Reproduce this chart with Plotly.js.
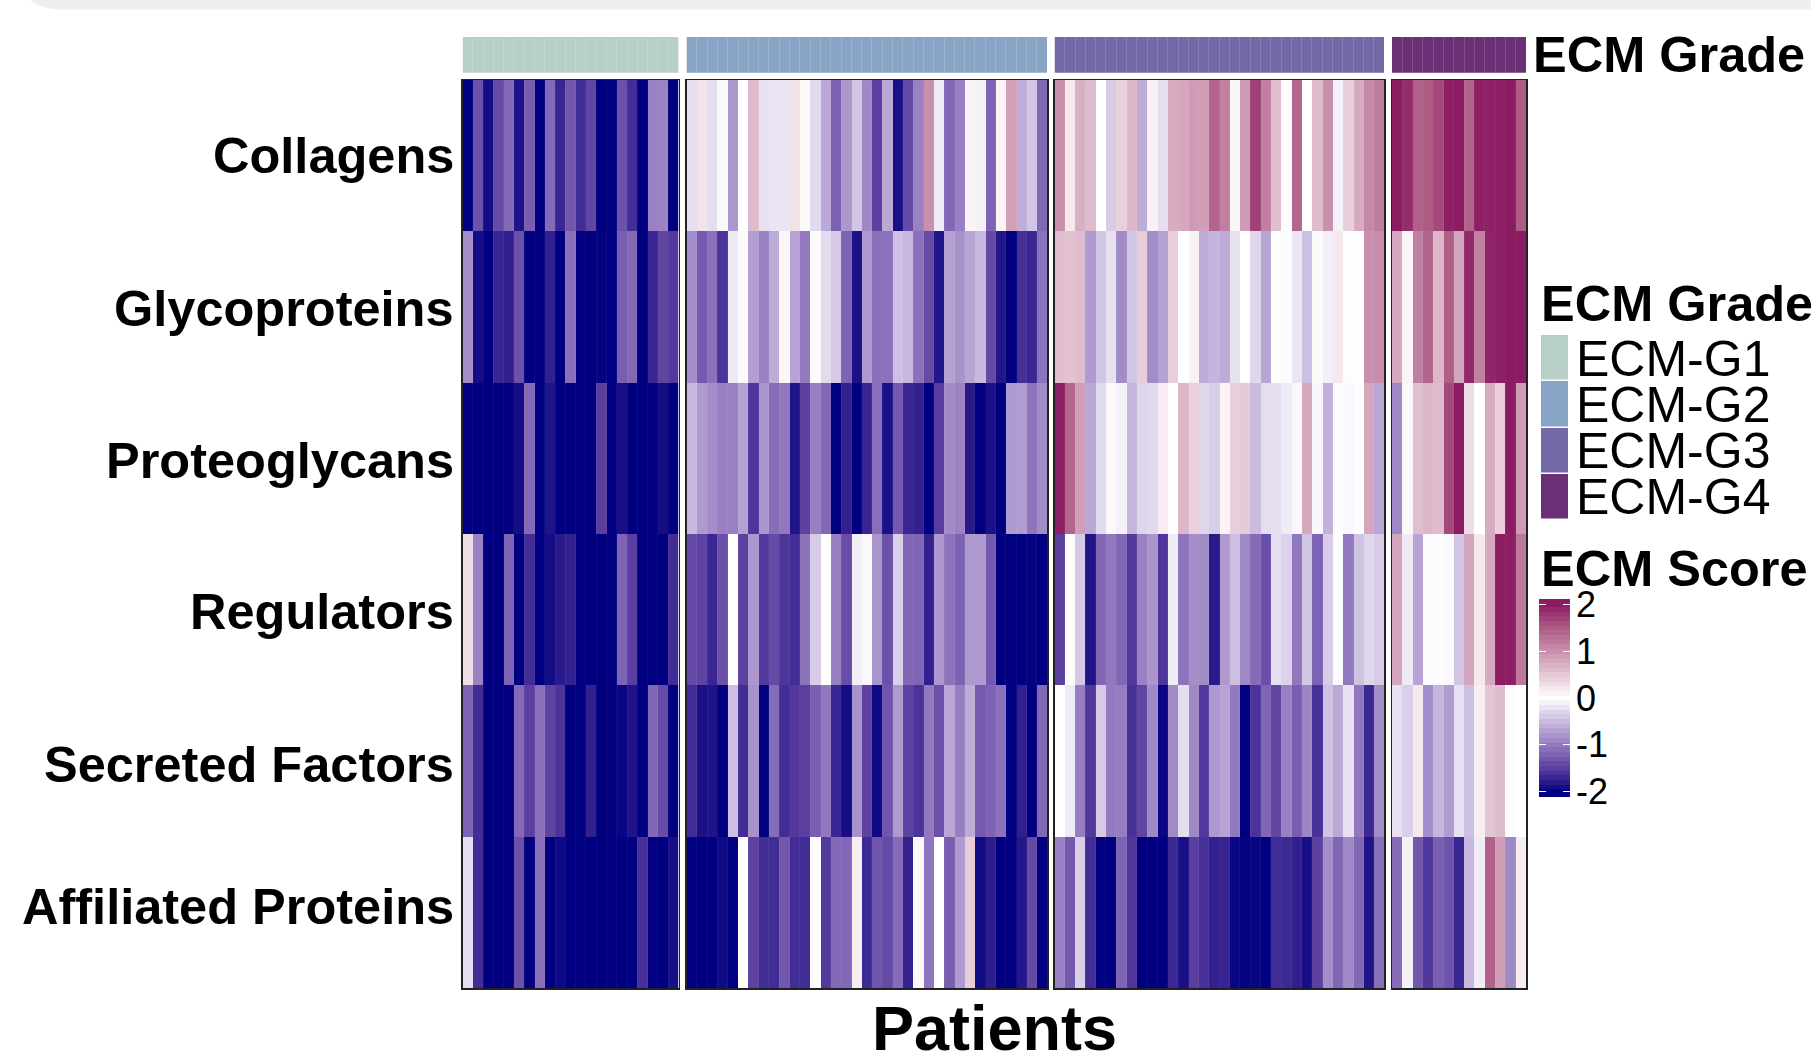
<!DOCTYPE html>
<html>
<head>
<meta charset="utf-8">
<script src="https://cdn.plot.ly/plotly-3.0.1.min.js"></script>
<style>html,body{margin:0;padding:0;background:#fff}#chart{width:1811px;height:1064px}</style>
</head>
<body>
<div id="chart"></div>
<script>
const rowLabels = ["Collagens","Glycoproteins","Proteoglycans","Regulators","Secreted Factors","Affiliated Proteins"];
const rowLabelShift = [0,-1,-2,-2,-3,6];
const gradeNames = ["ECM-G1","ECM-G2","ECM-G3","ECM-G4"];
const gradeColors = ["#B7CFC7","#88A4C4","#7269A6","#6B2F76"];
const scoreTicks = [-2,-1,0,1,2];
const scoreTickText = ["-2","-1","0","1","2"];
const scoreStops = [-2.12,-2,-1.75,-1.5,-1,-0.5,0,0.5,1,1.5,2,2.12];
const scoreColors = ["#000080","#000080","#32208E","#5B3FA0","#947BC0","#CABBE0","#FFFFFF","#E5C7D5","#C990AD","#AE5C85","#8B1C62","#8B1C62"];
const rampValues = [-2.1,-2,-1.9,-1.8,-1.7,-1.6,-1.5,-1.4,-1.3,-1.2,-1.1,-1,-0.9,-0.8,-0.7,-0.6,-0.5,-0.4,-0.3,-0.2,-0.1,0,0.1,0.2,0.3,0.4,0.5,0.6,0.7,0.8,0.9,1,1.1,1.2,1.3,1.4,1.5,1.6,1.7,1.8,1.9,2,2.1];

const g1Scores = [
[-2,-1.35,-1.9,-1.4,-1.15,-1.85,-1.25,-2,-1.15,-1.7,-1.3,-1.65,-1.45,-2,-2,-1.35,-1.65,-2,-0.95,-0.93,-2],
[-0.85,-1.9,-2,-1.7,-1.75,-1.35,-2,-2,-1.75,-2,-1.1,-2,-2,-1.98,-2,-1.25,-1.15,-2,-1.7,-1.45,-1.55],
[-2,-2,-2,-2,-2,-1.9,-1.15,-2,-1.85,-2,-2,-2,-2,-1.5,-2,-1.88,-2,-2,-2,-1.9,-2],
[0.3,-0.95,-2,-2,-1.2,-2,-1.65,-2,-1.9,-1.8,-1.75,-2,-2,-2,-2,-1.2,-1.5,-2,-2,-2,-1.65],
[-1.2,-1.65,-2,-2,-2,-1.15,-1.5,-1.1,-1.47,-1.6,-2,-2,-1.75,-2,-2,-1.95,-1.85,-2,-1.17,-1.4,-2],
[-0.25,-1.65,-2,-2,-2,-1.35,-2,-1.1,-2,-1.93,-2,-2,-2,-2,-2,-2,-2,-1.62,-2,-2,-1.88]
];
const g2Scores = [
[-0.25,0.25,-0.25,-0.05,-0.78,0,0.6,-0.22,-0.2,-0.2,0.27,0.05,-0.28,-0.65,-1.22,-0.78,-0.42,-0.9,-1.48,-0.65,-1.87,-1.42,-0.95,1,-0.15,-1.17,-0.95,0.1,-0.1,-1.2,0.1,0.85,-0.6,-0.42,-1.17],
[-0.85,-1.28,-1.08,-1.6,-0.16,0.05,-0.73,-0.95,-0.62,0.08,-0.68,-1,-0.04,-0.27,-0.4,-1.2,-1.87,-0.77,-1.08,-1.08,-0.46,-0.52,-1.08,-1.4,-1.83,-0.7,-0.82,-0.68,-0.52,-1.42,-1.83,-2,-1.63,-1.7,-1.07],
[-0.52,-0.76,-0.85,-0.95,-0.95,-0.7,-1.58,-0.8,-1.12,-1.03,-1.85,-1.48,-0.97,-1.17,-2,-1.75,-2,-1.72,-1.1,-1.87,-1.28,-1.7,-1.75,-2,-1.52,-0.87,-0.93,-1.8,-2,-1.87,-2,-0.75,-0.75,-1.07,-0.87],
[-1.4,-1.47,-1.7,-1.35,0,-1.48,-0.78,-1.55,-1.4,-1.58,-1.65,-1.07,-0.38,0,-0.97,-1.38,-0.12,-0.05,-0.8,-1.35,-0.35,-1.17,-1.18,-1.75,-0.78,-1.07,-1.2,-0.76,-0.76,-1.28,-2,-2,-2,-1.97,-2],
[-1.65,-1.87,-1.84,-2,-0.47,-1.65,-0.83,-2,-1.12,-1.65,-1.55,-1.5,-1.23,-1.02,-1.7,-1.9,-0.82,-1.48,-1.93,-1.32,-0.76,-1.47,-1.6,-1.02,-1.36,-0.67,-0.98,-0.62,-1.28,-1.2,-1.08,-2,-1.76,-2,-1.17],
[-2,-2,-2,-1.92,-2,0,-1.48,-1.65,-1.65,-1.3,-1.65,-1.65,-0.02,-1.55,-1.15,-1.17,0.15,-1.68,-1.32,-1.42,-1.13,-1.74,0.05,-1.05,0,-1.25,-0.75,0.45,-1.92,-1.78,-2,-2,-1.83,-1.42,-2]
];
const g3Scores = [
[1,0.2,0.72,0.6,0,-0.38,0.42,0.65,-0.62,0.13,-0.25,0.75,0.78,0.9,0.87,1.4,1.15,0.07,0.9,1.72,1.15,0.57,0.02,1.4,0.01,0.6,1,-0.1,0.43,0.76,1.08,1.17],
[0.58,0.55,0.6,-0.76,-0.42,-0.22,-0.87,-0.42,0.45,-0.87,-0.7,0.43,0,0.12,-0.62,-0.55,-0.63,-0.23,0,-0.3,-0.68,0.01,-0.03,-0.2,-0.47,0.05,-0.12,0.2,-0.02,0,1,1.03],
[1.97,1.4,0.87,-0.66,-0.28,0.06,-0.1,-0.55,-0.3,-0.28,0.17,0.01,0.65,0.42,-0.3,-0.37,0.1,0.43,0.47,-0.5,-0.25,-0.25,-0.14,-0.05,0.78,-0.06,-0.58,-0.02,-0.05,-0.03,0.8,-0.66],
[-1.48,0.01,-0.4,-1.85,-1.17,-1.02,-1.17,-1.55,-0.95,-0.8,-1.58,-0.14,-1.07,-0.85,-0.87,-1.8,-0.76,-0.47,-0.9,-1.13,-1.37,-0.25,-0.33,-1.03,-0.42,-1.2,-0.37,-0.03,-1.02,-0.45,-0.3,-0.38],
[0,-0.15,-0.98,-1.55,-0.4,-1,-0.98,-1.62,-1.45,-0.9,-1.95,-0.88,-0.25,-0.9,-1.55,-0.78,-0.68,-1.02,-2,-1.6,-1.18,-1.45,-0.95,-1.25,-0.92,-1.62,-0.45,-0.65,-0.22,-1.03,-1.68,-0.85],
[-0.95,-1.28,-0.35,-1.65,-2,-2,-1.2,-1.57,-2,-2,-2,-1.68,-1.88,-1.5,-1.62,-1.75,-1.72,-1.95,-1.98,-1.96,-2,-1.66,-1.68,-1.76,-1.88,-1.48,-0.85,-1.18,-0.9,-1.17,-1.85,-1.1]
];
const g4Scores = [
[2,1.87,1.45,1.5,1.65,1.97,2,1.43,1.97,1.95,1.97,2,1.5],
[0.78,0.1,1.15,1.4,0.65,1.48,0.8,1.9,1.15,1.93,1.98,2,2],
[-0.9,0.07,0.57,0.65,0.6,1.65,2,0.3,0,0.75,0.43,2,0.9],
[0.8,-0.15,-0.68,-0.04,-0.03,-0.05,-0.43,0.8,0.2,0.77,2,1.97,1.22],
[-0.23,-0.35,0.2,-0.85,-0.55,-0.75,-0.23,-0.47,0.15,0.52,0.6,-0.02,0],
[-1.13,-0.1,-1.3,-1.56,-1.25,-1.33,-1.7,-0.52,-0.14,1.45,0.87,-0.9,0.15]
];
const panelScores = [g1Scores,g2Scores,g3Scores,g4Scores];

const W = 1811, H = 1064;
const FONT = '"Liberation Sans", Arial, sans-serif';
const px = (a,b) => [a/W, b/W];
const py = (top,bot) => [1-bot/H, 1-top/H];
const panelX = [[462.5,678.5],[686.5,1047],[1054.5,1384],[1392,1526]];
const scale = scoreStops.map((s,i)=>[(s-scoreStops[0])/(scoreStops[scoreStops.length-1]-scoreStops[0]), scoreColors[i]]);
const zmin = scoreStops[0], zmax = scoreStops[scoreStops.length-1];

const traces = [];
const layout = {
  width:W, height:H, margin:{l:0,r:0,t:0,b:0}, paper_bgcolor:'#fff', plot_bgcolor:'#fff',
  showlegend:false, font:{family:FONT,color:'#000'},
  annotations:[],
  shapes:[{type:'path', xref:'paper', yref:'paper', layer:'below', line:{width:0}, fillcolor:'#EFEFEF',
    path:`M ${30/W},1 Q ${42/W},${1-9.5/H} ${62/W},${1-9.5/H} L 1,${1-9.5/H} L 1,1 Z`}]
};
let axisN = 0;
function addAxes(xcfg, ycfg){
  axisN++;
  const sfx = axisN===1?'':String(axisN);
  layout['xaxis'+sfx] = Object.assign({anchor:'y'+sfx, showgrid:false, zeroline:false, fixedrange:true}, xcfg);
  layout['yaxis'+sfx] = Object.assign({anchor:'x'+sfx, showgrid:false, zeroline:false, fixedrange:true}, ycfg);
  return {x:'x'+sfx, y:'y'+sfx};
}

panelScores.forEach((z,p)=>{
  const a = addAxes(
    {domain:px(...panelX[p]), showticklabels:false, showline:true, mirror:true, linecolor:'#222', linewidth:1.5,
     ticks:'inside', tick0:0.5, dtick:1, ticklen:906, tickcolor:'rgba(255,255,255,0.05)', tickwidth:1},
    {domain:py(80,988), type:'category', autorange:'reversed', showline:true, mirror:true, linecolor:'#222', linewidth:1.5,
     showticklabels:false, ticks:''}
  );
  traces.push({type:'heatmap', z:z, y:rowLabels, xaxis:a.x, yaxis:a.y, zmin:zmin, zmax:zmax, colorscale:scale, showscale:false, hoverinfo:'skip'});
});
rowLabels.forEach((t,i)=>{
  layout.annotations.push({text:t, xref:'paper', yref:'y', x:456/W, y:t, xanchor:'right', yanchor:'middle', yshift:rowLabelShift[i], showarrow:false,
    font:{family:FONT,size:50.5,weight:700,color:'#000'}});
});
panelScores.forEach((z,p)=>{
  const a = addAxes(
    {domain:px(...panelX[p]), showticklabels:false, showline:false, ticks:'inside', tick0:0.5, dtick:1, ticklen:36, tickcolor:'rgba(255,255,255,0.15)', tickwidth:1},
    {domain:py(37,72.7), showticklabels:false, showline:false, ticks:''}
  );
  traces.push({type:'heatmap', z:[z[0].map(()=>p)], xaxis:a.x, yaxis:a.y, zmin:0, zmax:1, colorscale:[[0,gradeColors[p]],[1,gradeColors[p]]], showscale:false, hoverinfo:'skip'});
});
// grade legend
{
  const a = addAxes(
    {domain:px(1541,1568), showticklabels:false, ticks:''},
    {domain:py(335,520), type:'category', autorange:'reversed', side:'right', ticks:'', ticklen:0, dtick:1,
     tickfont:{family:FONT,size:50,color:'#000'}, ticklabelstandoff:7}
  );
  const n = gradeColors.length;
  const stepped = [];
  gradeColors.forEach((c,i)=>{ stepped.push([i/n,c]); stepped.push([(i+1)/n,c]); });
  traces.push({type:'heatmap', z:gradeNames.map((_,i)=>[i]), y:gradeNames, xaxis:a.x, yaxis:a.y, ygap:1.5, zmin:-0.5, zmax:3.5, colorscale:stepped, showscale:false, hoverinfo:'skip'});
}
// score colour key
{
  const a = addAxes(
    {domain:px(1539,1570), showticklabels:false, ticks:''},
    {domain:py(599,797), range:[zmin,zmax], side:'right', tickmode:'array', tickvals:scoreTicks, ticktext:scoreTickText,
     ticks:'inside', ticklen:7, tickwidth:1.5, tickcolor:'#fff', mirror:'ticks', showline:false,
     tickfont:{family:FONT,size:36,color:'#000'}, ticklabelstandoff:5}
  );
  traces.push({type:'heatmap', z:rampValues.map(v=>[v]), y:rampValues, xaxis:a.x, yaxis:a.y, zmin:zmin, zmax:zmax, colorscale:scale, showscale:false, hoverinfo:'skip'});
}

function label(text,x,y,size,anchor){
  layout.annotations.push({text:text, xref:'paper', yref:'paper', x:x/W, y:1-y/H, xanchor:anchor||'left', yanchor:'middle', showarrow:false,
    font:{family:FONT,size:size,weight:700,color:'#000'}});
}
label('ECM Grade',1531,55,50.5);
label('ECM Grade',1539,303,50.5);
label('ECM Score',1539,568,50.5);
label('Patients',994,1028,63,'center');

Plotly.newPlot('chart',traces,layout,{staticPlot:true,displayModeBar:false});
</script>
</body>
</html>
